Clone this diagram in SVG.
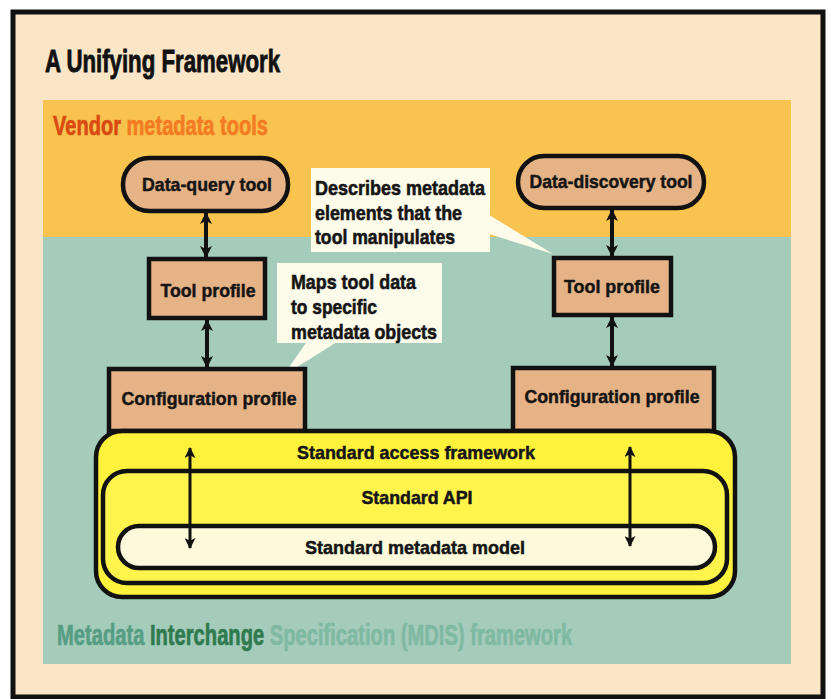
<svg xmlns="http://www.w3.org/2000/svg" width="831" height="699" viewBox="0 0 831 699">
<style>
  text { font-family: "Liberation Sans", Arial, sans-serif; font-weight: bold; }
  .lbl { font-size: 19px; fill: #151515; stroke: #151515; stroke-width: 0.5; text-anchor: middle; }
  .co { font-size: 21px; fill: #151515; stroke: #151515; stroke-width: 0.6; }
  .box { fill: #e6b386; stroke: #111; stroke-width: 4.5; }
  .callout { fill: #fdfbea; }
  .conn { stroke: #111; stroke-width: 4; fill: none; }
  .conn2 { stroke: #111; stroke-width: 3; fill: none; }
</style>
<defs>
  <marker id="ah" viewBox="0 0 12 12" refX="11" refY="6" markerWidth="12" markerHeight="12" markerUnits="userSpaceOnUse" orient="auto-start-reverse">
    <path d="M0,0 L12,6 L0,12 L3,6 Z" fill="#111"/>
  </marker>
  <marker id="ah2" viewBox="0 0 12 12" refX="11" refY="6" markerWidth="11" markerHeight="11" markerUnits="userSpaceOnUse" orient="auto-start-reverse">
    <path d="M0,0 L12,6 L0,12 L3,6 Z" fill="#111"/>
  </marker>
</defs>

<!-- frame and background -->
<rect x="13" y="12" width="810" height="685" fill="#fae6c6" stroke="#111" stroke-width="5"/>
<text x="45" y="72" font-size="32" fill="#111" stroke="#111" stroke-width="0.9" textLength="235" lengthAdjust="spacingAndGlyphs">A Unifying Framework</text>

<!-- bands -->
<rect x="43" y="100" width="748" height="137" fill="#f8c34f"/>
<rect x="43" y="237" width="748" height="427" fill="#a5ccbb"/>
<text transform="translate(53,135) scale(0.716,1)" font-size="28" stroke-width="0.7"><tspan fill="#d84a12" stroke="#d84a12">Vendor </tspan><tspan fill="#f47b22" stroke="#f47b22">metadata tools</tspan></text>
<text transform="translate(57,645) scale(0.695,1)" font-size="29" stroke-width="0.7"><tspan fill="#559e84" stroke="#559e84">Metadata </tspan><tspan fill="#2f7a4f" stroke="#2f7a4f">Interchange </tspan><tspan fill="#80b9a2" stroke="#80b9a2">Specification (MDIS) framework</tspan></text>

<!-- callouts -->
<g id="callout-describes">
  <polygon class="callout" points="486,213 553,254 486,233"/>
  <rect class="callout" x="311" y="168" width="179" height="84"/>
  <text class="co" x="315" y="195" textLength="170" lengthAdjust="spacingAndGlyphs">Describes metadata</text>
  <text class="co" x="315" y="220" textLength="147" lengthAdjust="spacingAndGlyphs">elements that the</text>
  <text class="co" x="315" y="244" textLength="140" lengthAdjust="spacingAndGlyphs">tool manipulates</text>
</g>
<g id="callout-maps">
  <polygon class="callout" points="308,340 340,340 283,376"/>
  <rect class="callout" x="277" y="263" width="165" height="80"/>
  <text class="co" x="291" y="289" textLength="125" lengthAdjust="spacingAndGlyphs">Maps tool data</text>
  <text class="co" x="291" y="314" textLength="86" lengthAdjust="spacingAndGlyphs">to specific</text>
  <text class="co" x="291" y="339" textLength="146" lengthAdjust="spacingAndGlyphs">metadata objects</text>
</g>

<!-- left column nodes -->
<g id="data-query-tool">
  <rect class="box" x="123" y="158" width="165" height="53" rx="26"/>
  <text class="lbl" x="207" y="191" textLength="130" lengthAdjust="spacingAndGlyphs">Data-query tool</text>
</g>
<g id="tool-profile-left">
  <rect class="box" x="149" y="259" width="116" height="59"/>
  <text class="lbl" x="208" y="297" textLength="95" lengthAdjust="spacingAndGlyphs">Tool profile</text>
</g>
<g id="config-profile-left">
  <rect class="box" x="109" y="369" width="196" height="62"/>
  <text class="lbl" x="209" y="405" textLength="175" lengthAdjust="spacingAndGlyphs">Configuration profile</text>
</g>

<!-- right column nodes -->
<g id="data-discovery-tool">
  <rect class="box" x="518" y="156" width="186" height="52" rx="26"/>
  <text class="lbl" x="611" y="188" textLength="163" lengthAdjust="spacingAndGlyphs">Data-discovery tool</text>
</g>
<g id="tool-profile-right">
  <rect class="box" x="554" y="258" width="117" height="57"/>
  <text class="lbl" x="612" y="293" textLength="96" lengthAdjust="spacingAndGlyphs">Tool profile</text>
</g>
<g id="config-profile-right">
  <rect class="box" x="513" y="368" width="201" height="63"/>
  <text class="lbl" x="612" y="403" textLength="175" lengthAdjust="spacingAndGlyphs">Configuration profile</text>
</g>

<!-- standard framework stack -->
<g id="standard-access-framework">
  <rect x="96" y="431" width="639" height="166" rx="26" fill="#fff23c" stroke="#111" stroke-width="4.5"/>
  <text class="lbl" x="416" y="459" textLength="238" lengthAdjust="spacingAndGlyphs">Standard access framework</text>
</g>
<g id="standard-api">
  <rect x="103" y="471" width="624" height="112" rx="24" fill="#fff44c" stroke="#111" stroke-width="4.5"/>
  <text class="lbl" x="417" y="504" textLength="111" lengthAdjust="spacingAndGlyphs">Standard API</text>
</g>
<g id="standard-metadata-model">
  <rect x="118" y="526" width="597" height="42" rx="21" fill="#fdfadc" stroke="#111" stroke-width="4.5"/>
  <text class="lbl" x="415" y="554" textLength="220" lengthAdjust="spacingAndGlyphs">Standard metadata model</text>
</g>

<!-- connectors -->
<g id="connectors">
  <line class="conn" x1="206" y1="213" x2="206" y2="257" marker-start="url(#ah)" marker-end="url(#ah)"/>
  <line class="conn" x1="207" y1="320" x2="207" y2="367" marker-start="url(#ah)" marker-end="url(#ah)"/>
  <line class="conn" x1="612" y1="210" x2="612" y2="256" marker-start="url(#ah)" marker-end="url(#ah)"/>
  <line class="conn" x1="612" y1="317" x2="612" y2="366" marker-start="url(#ah)" marker-end="url(#ah)"/>
  <line class="conn2" x1="190" y1="448" x2="190" y2="548" marker-start="url(#ah2)" marker-end="url(#ah2)"/>
  <line class="conn2" x1="630" y1="447" x2="630" y2="546" marker-start="url(#ah2)" marker-end="url(#ah2)"/>
</g>
</svg>
